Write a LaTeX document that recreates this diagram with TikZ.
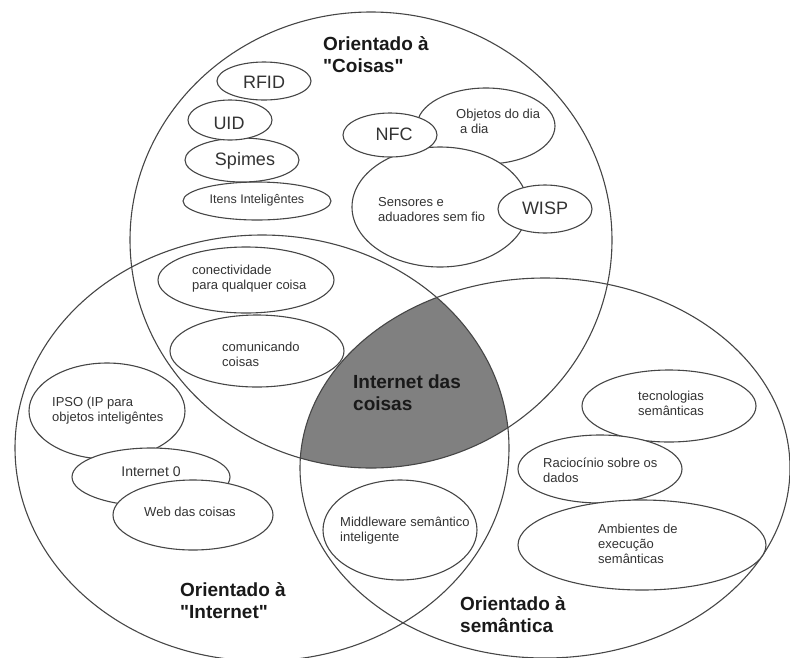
\documentclass[tikz,border=0pt]{standalone}
\usepackage{fontspec}
\setmainfont{Liberation Sans}
\newfontfamily\plainsans{Liberation Sans}
\definecolor{shadegray}{RGB}{128,128,128}
\definecolor{linegray}{RGB}{70,70,70}
\begin{document}
\begin{tikzpicture}[x=1pt,y=-1pt,
  outl/.style={draw=linegray, line width=1.1pt},
  sub/.style={outl, fill=white},
  txt/.style={font=\plainsans\fontsize{13}{15}\selectfont, align=left, inner sep=0pt, anchor=west, text=black!80},
  bigtxt/.style={font=\plainsans\fontsize{18}{20}\selectfont, inner sep=0pt, text=black!80},
  title/.style={font=\plainsans\fontsize{19}{22}\selectfont\bfseries, align=left, inner sep=0pt, anchor=west, text=black!90}]
\useasboundingbox (0,0) rectangle (790,657);
\begin{scope}
\clip (0,0) rectangle (790,657);
% shaded triple intersection
\begin{scope}
  \clip (371,240) ellipse [x radius=241pt, y radius=228pt];
  \clip (262,448) ellipse [x radius=247pt, y radius=213pt];
  \fill[shadegray] (545,468) ellipse [x radius=245pt, y radius=190pt];
\end{scope}
% main sets
\draw[outl] (371,240) ellipse [x radius=241pt, y radius=228pt];
\draw[outl] (262,448) ellipse [x radius=247pt, y radius=213pt];
\draw[outl] (545,468) ellipse [x radius=245pt, y radius=190pt];
\end{scope}
% Coisas subsets
\draw[sub] (257,201) ellipse [x radius=74pt, y radius=19pt];
\draw[sub] (242,160) ellipse [x radius=57pt, y radius=22pt];
\draw[sub] (230,120) ellipse [x radius=42pt, y radius=20pt];
\draw[sub] (264,81) ellipse [x radius=47pt, y radius=19pt];
\draw[sub] (486,126) ellipse [x radius=69pt, y radius=38pt];
\draw[sub] (440,207) ellipse [x radius=88pt, y radius=60pt];
\draw[sub] (390,135) ellipse [x radius=47pt, y radius=22pt];
\draw[sub] (545,209) ellipse [x radius=47pt, y radius=24pt];
% Internet subsets
\draw[sub] (246,280) ellipse [x radius=88pt, y radius=33pt];
\draw[sub] (257,351) ellipse [x radius=87pt, y radius=36pt];
\draw[sub] (107,411) ellipse [x radius=78pt, y radius=48pt];
\draw[sub] (151,477) ellipse [x radius=79pt, y radius=29pt];
\draw[sub] (193,515) ellipse [x radius=80pt, y radius=35pt];
% Semantic subsets
\draw[sub] (400,530) ellipse [x radius=77pt, y radius=50pt];
\draw[sub] (669,406) ellipse [x radius=87pt, y radius=36pt];
\draw[sub] (600,469) ellipse [x radius=82pt, y radius=34pt];
\draw[sub] (642,545) ellipse [x radius=124pt, y radius=45pt];
% texts
\node[bigtxt] (rfid) at (264,82) {RFID};
\node[bigtxt] (uid) at (229,123) {UID};
\node[bigtxt] (spimes) at (245,161) {Spimes};
\node[txt, anchor=center, font=\plainsans\fontsize{12.5}{14}\selectfont] (itens) at (257,200) {Itens Inteligêntes};
\node[bigtxt] (nfc) at (394,134) {NFC};
\node[bigtxt] (wisp) at (545,208) {WISP};
\node[txt] (objetos) at (456,121) {Objetos do dia\\\hspace*{4pt}a dia};
\node[txt] (sensores) at (378,210) {Sensores e\\aduadores sem fio};
\node[txt] (conect) at (192,279) {conectividade\\para qualquer coisa};
\node[txt] (comunic) at (222,354) {comunicando\\coisas};
\node[txt] (ipso) at (52,411) {IPSO (IP para\\objetos inteligêntes};
\node[txt, anchor=center, font=\plainsans\fontsize{14}{16}\selectfont] (int0) at (151,472) {Internet 0};
\node[txt, anchor=center] (web) at (190,512) {Web das coisas};
\node[txt] (middle) at (340,531) {Middleware semântico\\inteligente};
\node[txt] (tecno) at (638,403) {tecnologias\\semânticas};
\node[txt] (racioc) at (543,470) {Raciocínio sobre os\\dados};
\node[txt] (ambient) at (598,544) {Ambientes de\\execução\\semânticas};
% titles
\node[title] (tcoisas) at (323,55) {Orientado à\\"Coisas"};
\node[title] (tinternet) at (180,601) {Orientado à\\"Internet"};
\node[title] (tsemant) at (460,615) {Orientado à\\semântica};
\node[title] (iot) at (353,393) {Internet das\\coisas};
\end{tikzpicture}
\end{document}
